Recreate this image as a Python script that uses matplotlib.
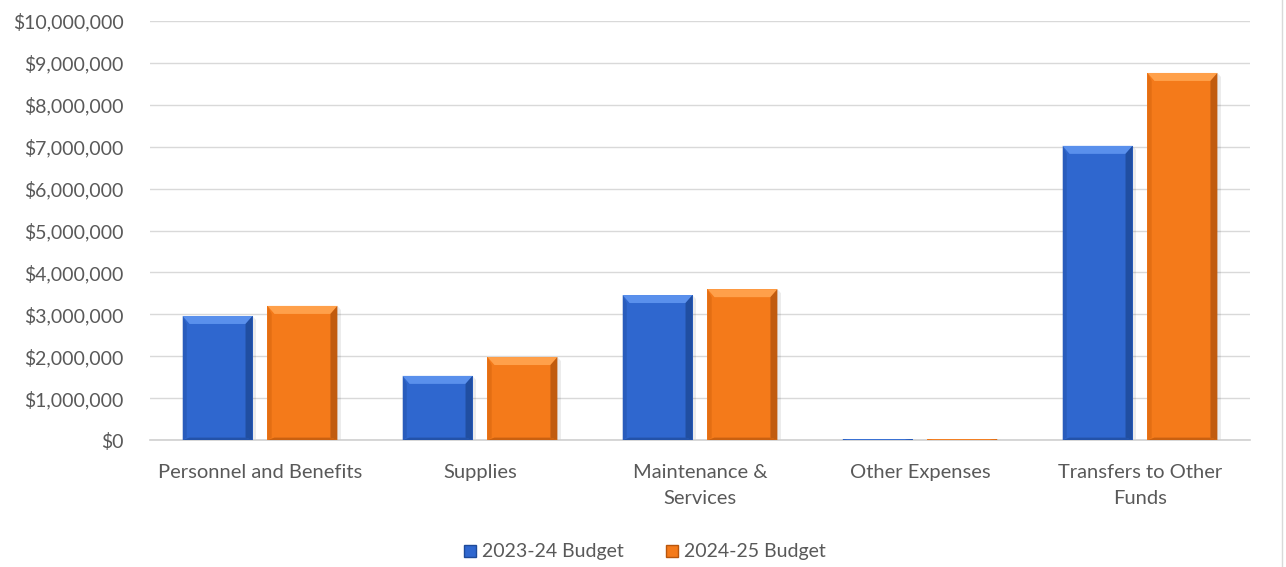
import matplotlib.pyplot as plt
import numpy as np
from matplotlib.patches import Polygon
from matplotlib.ticker import FuncFormatter
from matplotlib.lines import Line2D

plt.rcParams['font.family'] = ['Lato', 'DejaVu Sans']

categories = ['Personnel and Benefits', 'Supplies', 'Maintenance &\nServices',
              'Other Expenses', 'Transfers to Other\nFunds']
budget_2324 = [2960000, 1530000, 3460000, 15000, 7020000]
budget_2425 = [3200000, 1980000, 3600000, 12000, 8760000]
series_names = ['2023-24 Budget', '2024-25 Budget']

# main, top-light, right-dark, bottom-dark
blue = ['#2F67CF', '#5A90EC', '#1E4A99', '#2556B0']
orange = ['#F47A1A', '#FFA04A', '#B8560C', '#D8660F']

fig = plt.figure(figsize=(12.86, 5.67), dpi=100)
ax = fig.add_axes([150 / 1286, 127 / 567, 1100 / 1286, 419 / 567])

x = np.arange(len(categories))
w = 0.318
off = 0.193


def bevel_bars(xs, vals, cols):
    bars = ax.bar(xs, vals, w, color=cols[0], zorder=3, linewidth=0)
    # bevel sizes in data units (~7 px)
    bx = 7 / 220
    by = 8 * 10e6 / 419
    for b in bars:
        x0, y0 = b.get_x(), b.get_y()
        x1, y1 = x0 + b.get_width(), y0 + b.get_height()
        h = min(by, (y1 - y0) / 2)
        top = Polygon([(x0, y1), (x1, y1), (x1 - bx, y1 - h), (x0 + bx, y1 - h)],
                      closed=True, color=cols[1], lw=0, zorder=4)
        right = Polygon([(x1, y1), (x1, y0), (x1 - bx, y0 + h * 0.3), (x1 - bx, y1 - h)],
                        closed=True, color=cols[2], lw=0, zorder=4, alpha=0.85)
        left = Polygon([(x0, y1), (x0, y0), (x0 + bx * 0.6, y0 + h * 0.3), (x0 + bx * 0.6, y1 - h)],
                       closed=True, color=cols[3], lw=0, zorder=4, alpha=0.6)
        bottom = Polygon([(x0, y0), (x1, y0), (x1 - bx, y0 + h * 0.3), (x0 + bx, y0 + h * 0.3)],
                         closed=True, color=cols[2], lw=0, zorder=4, alpha=0.7)
        for p in (top, right, left, bottom):
            ax.add_patch(p)
        # soft shadow
        ax.add_patch(Polygon([(x0, y0), (x1 + bx * 0.5, y0), (x1 + bx * 0.5, y1 - h * 0.5),
                              (x1, y1)], closed=True, color='#000000', alpha=0.08,
                             lw=0, zorder=2))
    return bars


bevel_bars(x - off, budget_2324, blue)
bevel_bars(x + off, budget_2425, orange)

ax.set_xlim(-0.5, len(categories) - 0.5)
ax.set_ylim(0, 10e6)
ax.set_yticks(np.arange(0, 10e6 + 1, 1e6))
ax.yaxis.set_major_formatter(FuncFormatter(lambda v, p: f'${v:,.0f}'))
ax.grid(axis='y', color='#D9D9D9', linewidth=1, zorder=0)
ax.set_axisbelow(True)
for s in ['top', 'right', 'left']:
    ax.spines[s].set_visible(False)
ax.spines['bottom'].set_color('#D0D0D0')
ax.spines['bottom'].set_linewidth(1.2)
ax.tick_params(axis='both', length=0, labelsize=14, colors='#595959')
ax.tick_params(axis='x', labelsize=14.5, pad=17)
ax.tick_params(axis='y', pad=19)
ax.set_xticks(x)
ax.set_xticklabels(categories, linespacing=1.7)

handles = [Line2D([], [], marker='s', linestyle='', markersize=8.5,
                  markerfacecolor=blue[0], markeredgecolor=blue[2]),
           Line2D([], [], marker='s', linestyle='', markersize=8.5,
                  markerfacecolor=orange[0], markeredgecolor=orange[2])]
fig.legend(handles, series_names, loc='center', bbox_to_anchor=(643 / 1286, 1 - 552 / 567),
           ncol=2, frameon=False, fontsize=14, labelcolor='#595959',
           handletextpad=0.1, columnspacing=2.0, handlelength=1.0)

fig.add_artist(Line2D([1282 / 1286, 1282 / 1286], [0, 1], color='#D9D9D9', lw=1))

fig.savefig('out.png', dpi=100)
plt.close(fig)
